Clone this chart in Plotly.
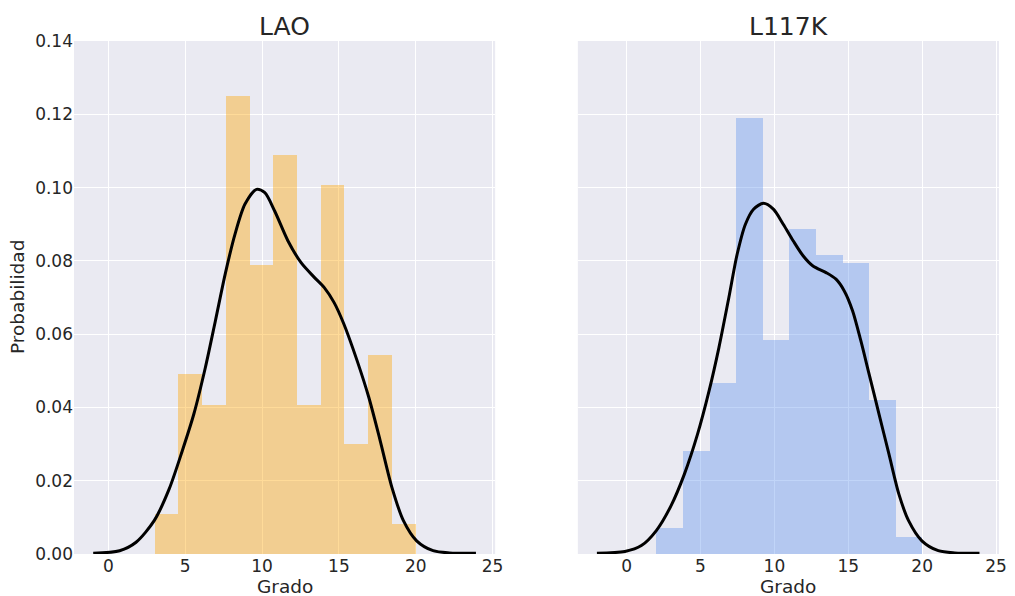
import numpy as np
import plotly.graph_objects as go
from plotly.subplots import make_subplots

# Histogram densities (11 bins from 3 to 20 for LAO, 10 bins from 2 to 20 for L117K)
lao_bin_start, lao_bin_end = 3.0, 20.0
lao_density = [0.0109, 0.0490, 0.0408, 0.1251, 0.0789, 0.1088,
               0.0408, 0.1006, 0.0299, 0.0544, 0.0082]

l117k_bin_start, l117k_bin_end = 2.0, 20.0
l117k_density = [0.0070, 0.0280, 0.0467, 0.1190, 0.0584,
                 0.0887, 0.0817, 0.0794, 0.0420, 0.0047]

# Kernel density estimate curves
lao_kde_x = [-0.99, 0.73, 1.80, 2.98, 3.95, 4.81, 5.56, 6.31, 6.96, 7.60,
             8.24, 8.89, 9.64, 10.18, 10.82, 11.68, 12.54, 13.40, 14.05,
             14.69, 15.33, 16.19, 16.95, 17.69, 18.45, 19.20, 20.06, 21.13,
             22.20, 23.92]
lao_kde_y = [0.0002, 0.0009, 0.0032, 0.0091, 0.0177, 0.0282, 0.0382, 0.0509,
             0.0636, 0.0764, 0.0873, 0.0955, 0.0995, 0.0986, 0.0936, 0.0855,
             0.0795, 0.0755, 0.0727, 0.0686, 0.0627, 0.0527, 0.0427, 0.0309,
             0.0182, 0.0091, 0.0036, 0.0009, 0.0003, 0.0002]

l117k_kde_x = [-2.01, -0.11, 1.00, 2.01, 3.01, 3.91, 4.80, 5.58, 6.25, 6.92,
               7.48, 8.04, 8.59, 9.26, 9.93, 10.60, 11.27, 11.94, 12.61,
               13.50, 14.17, 14.73, 15.29, 15.85, 16.41, 17.08, 17.75, 18.42,
               19.08, 19.98, 21.09, 22.21, 23.88]
l117k_kde_y = [0.0002, 0.0007, 0.0023, 0.0064, 0.0132, 0.0218, 0.0327, 0.0445,
               0.0564, 0.0700, 0.0818, 0.0900, 0.0941, 0.0957, 0.0941, 0.0900,
               0.0855, 0.0814, 0.0786, 0.0768, 0.0750, 0.0718, 0.0664, 0.0582,
               0.0491, 0.0382, 0.0273, 0.0164, 0.0091, 0.0036, 0.0009, 0.0003,
               0.0002]

titles = ["LAO", "L117K"]
x_label = "Grado"
y_label = "Probabilidad"
x_ticks = [0, 5, 10, 15, 20, 25]
y_ticks = [0.00, 0.02, 0.04, 0.06, 0.08, 0.10, 0.12, 0.14]

FONT = "DejaVu Sans"
TEXT = "#262626"
BG = "#EAEAF2"

fig = make_subplots(rows=1, cols=2, shared_yaxes=True, horizontal_spacing=0.0894)


def add_hist(col, start, end, density, color):
    edges = np.linspace(start, end, len(density) + 1)
    centers = (edges[:-1] + edges[1:]) / 2
    width = edges[1] - edges[0]
    fig.add_trace(go.Bar(x=centers, y=density, width=width,
                         marker=dict(color=color, line=dict(width=0)),
                         showlegend=False, hoverinfo="skip"), row=1, col=col)


add_hist(1, lao_bin_start, lao_bin_end, lao_density, "rgba(255,165,0,0.4)")
add_hist(2, l117k_bin_start, l117k_bin_end, l117k_density, "rgba(100,149,237,0.4)")

for col, (kx, ky) in enumerate([(lao_kde_x, lao_kde_y), (l117k_kde_x, l117k_kde_y)], start=1):
    fig.add_trace(go.Scatter(x=kx, y=ky, mode="lines",
                             line=dict(color="black", width=3, shape="spline", smoothing=0.8),
                             showlegend=False, hoverinfo="skip"), row=1, col=col)

axis_common = dict(showgrid=True, gridcolor="white", gridwidth=1.2, zeroline=False,
                   showline=False, ticks="", tickfont=dict(family=FONT, size=17, color=TEXT))

fig.update_xaxes(**axis_common, tickvals=x_ticks, ticktext=[str(v) for v in x_ticks])
fig.update_xaxes(range=[-2.24, 25.17], row=1, col=1)
fig.update_xaxes(range=[-3.30, 25.20], row=1, col=2)
fig.update_yaxes(**axis_common, range=[0, 0.14], tickvals=y_ticks,
                 ticktext=[f"{v:.2f}" for v in y_ticks])
fig.update_yaxes(showticklabels=False, row=1, col=2)

annotations = []
for i, t in enumerate(titles):
    dom = fig.layout["xaxis" if i == 0 else "xaxis2"].domain
    cx = (dom[0] + dom[1]) / 2
    annotations.append(dict(text=t, x=cx, y=1.0, xref="paper", yref="paper",
                            xanchor="center", yanchor="bottom", yshift=-2, showarrow=False,
                            font=dict(family=FONT, size=25, color=TEXT)))
    annotations.append(dict(text=x_label, x=cx, y=0, xref="paper", yref="paper",
                            xanchor="center", yanchor="top", yshift=-20, showarrow=False,
                            font=dict(family=FONT, size=18.5, color=TEXT)))
annotations.append(dict(text=y_label, x=0, y=0.5, xref="paper", yref="paper",
                        xanchor="right", yanchor="middle", xshift=-44, showarrow=False,
                        textangle=-90, font=dict(family=FONT, size=18.5, color=TEXT)))

fig.update_layout(
    width=1015, height=596,
    margin=dict(l=74, r=7.5, t=41, b=42),
    paper_bgcolor="white", plot_bgcolor=BG,
    bargap=0, barmode="overlay",
    annotations=annotations,
    font=dict(family=FONT, color=TEXT),
)

fig.write_html("out.html")
